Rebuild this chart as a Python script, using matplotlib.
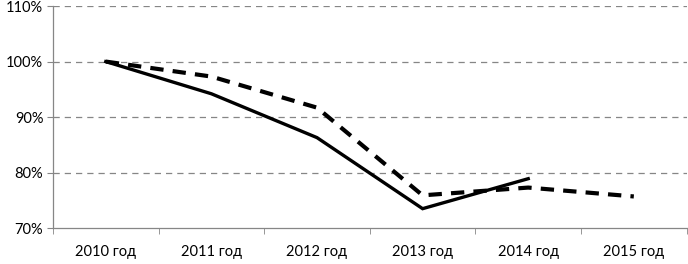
import matplotlib
matplotlib.use("Agg")
import matplotlib.pyplot as plt
import numpy as np

years = ["2010 год", "2011 год", "2012 год", "2013 год", "2014 год", "2015 год"]
solid_vals = [100, 94.2, 86.3, 73.5, 78.9]
dashed_vals = [100, 97.3, 91.7, 75.9, 77.3, 75.7]
y_ticks = [70, 80, 90, 100, 110]

plt.rcParams["font.family"] = ["Lato", "DejaVu Sans"]

fig = plt.figure(figsize=(6.88, 2.64), dpi=100)
ax = fig.add_axes([0.077, 0.136, 0.921, 0.841])

x_solid = np.arange(len(solid_vals))
x_dashed = np.arange(len(dashed_vals))

ax.plot(x_dashed, dashed_vals, color="black", lw=3.0, linestyle=(0, (3.2, 2.2)),
        solid_capstyle="butt", zorder=3)
ax.plot(x_solid, solid_vals, color="black", lw=2.4, solid_joinstyle="miter", zorder=4)

ax.set_xlim(-0.5, len(years) - 0.5)
ax.set_ylim(70, 110)
ax.set_yticks(y_ticks)
ax.set_yticklabels([f"{v}%" for v in y_ticks], fontsize=10.5)

# category labels centred, ticks between categories
ax.set_xticks(np.arange(len(years)))
ax.set_xticklabels(years, fontsize=10.5)
ax.tick_params(axis="x", which="major", length=0, pad=12)
ax.set_xticks(np.arange(len(years) + 1) - 0.5, minor=True)
ax.tick_params(axis="x", which="minor", length=4, color="#868686", direction="out")
ax.tick_params(axis="y", length=4, color="#868686", direction="out", pad=3)

for v in y_ticks[1:]:
    ax.axhline(v, color="#868686", lw=0.9, linestyle=(0, (5, 4)), zorder=1)

for s in ["top", "right"]:
    ax.spines[s].set_visible(False)
for s in ["left", "bottom"]:
    ax.spines[s].set_color("#868686")
    ax.spines[s].set_linewidth(0.9)

fig.savefig("out.png", dpi=100)
